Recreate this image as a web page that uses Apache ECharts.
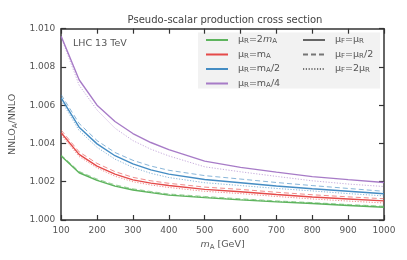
<!DOCTYPE html>
<html>
<head>
<meta charset="utf-8">
<script src="https://cdn.jsdelivr.net/npm/echarts@6/dist/echarts.min.js"></script>
<style>
html,body{margin:0;padding:0;background:#fff;}
#chart{width:407px;height:260px;}
</style>
</head>
<body>
<div id="chart"></div>
<script>
// ---- data ----
const massPoints = [100,150,200,250,300,350,400,500,600,700,800,900,1000];
const xTicks = [100,200,300,400,500,600,700,800,900,1000];
const yTicks = [1.000,1.002,1.004,1.006,1.008,1.010];

const green_fmu  = [1.00334,1.00247,1.00207,1.00177,1.00157,1.00143,1.00130,1.00117,1.00105,1.00095,1.00086,1.00076,1.00067];
const green_fhalf= [1.00340,1.00254,1.00214,1.00184,1.00163,1.00149,1.00136,1.00123,1.00111,1.00100,1.00091,1.00081,1.00072];
const green_f2   = [1.00336,1.00249,1.00209,1.00179,1.00159,1.00145,1.00132,1.00119,1.00107,1.00097,1.00088,1.00078,1.00069];

const red_fmu    = [1.00456,1.00343,1.00282,1.00240,1.00210,1.00193,1.00180,1.00160,1.00148,1.00133,1.00120,1.00110,1.00100];
const red_fhalf  = [1.00470,1.00356,1.00296,1.00253,1.00223,1.00205,1.00192,1.00172,1.00160,1.00145,1.00132,1.00121,1.00111];
const red_f2     = [1.00445,1.00332,1.00272,1.00229,1.00200,1.00183,1.00170,1.00150,1.00138,1.00123,1.00110,1.00099,1.00089];

const blue_fmu   = [1.00638,1.00485,1.00398,1.00336,1.00293,1.00262,1.00240,1.00212,1.00195,1.00178,1.00163,1.00150,1.00137];
const blue_fhalf = [1.00655,1.00505,1.00415,1.00353,1.00312,1.00282,1.00260,1.00232,1.00214,1.00196,1.00180,1.00165,1.00150];
const blue_f2    = [1.00625,1.00468,1.00380,1.00318,1.00275,1.00244,1.00222,1.00195,1.00180,1.00165,1.00152,1.00138,1.00126];

const purple_fmu = [1.00960,1.00733,1.00600,1.00515,1.00452,1.00405,1.00368,1.00308,1.00275,1.00250,1.00227,1.00211,1.00196];
const purple_f2  = [1.00955,1.00705,1.00575,1.00480,1.00415,1.00370,1.00335,1.00278,1.00252,1.00228,1.00205,1.00188,1.00175];

const scaleNames = ['μR=2mA','μR=mA','μR=mA/2','μR=mA/4'];
const styleNames = ['μF=μR','μF=μR/2','μF=2μR'];
const scaleLabels = {
  'μR=2mA':'{g|}{t|μ}{s|R}{t|=2}{i|m}{s|A}',
  'μR=mA':'{g|}{t|μ}{s|R}{t|=m}{s|A}',
  'μR=mA/2':'{g|}{t|μ}{s|R}{t|=m}{s|A}{t|/2}',
  'μR=mA/4':'{g|}{t|μ}{s|R}{t|=m}{s|A}{t|/4}',
  'μF=μR':'{g|}{t|μ}{s|F}{t|=μ}{s|R}',
  'μF=μR/2':'{g|}{t|μ}{s|F}{t|=μ}{s|R}{t|/2}',
  'μF=2μR':'{g|}{t|μ}{s|F}{t|=2μ}{s|R}'
};
const colors = ['#55b055','#e4403f','#3a86c0','#a274c4'];

const groups = [
  [green_fmu, green_fhalf, green_f2],
  [red_fmu, red_fhalf, red_f2],
  [blue_fmu, blue_fhalf, blue_f2],
  [purple_fmu, null, purple_f2]
];

const dashStyles = ['solid',[5,3],[1.2,1.6]];
const series = [];
groups.forEach((g, gi) => {
  g.forEach((arr, si) => {
    if (!arr) return;
    series.push({
      type:'line',
      name: si === 0 ? scaleNames[gi] : scaleNames[gi] + ' ' + styleNames[si],
      data: massPoints.map((m,i)=>[m, arr[i]]),
      symbol:'none',
      smooth:false,
      z: si===0 ? 5 : 3,
      lineStyle:{color:colors[gi], width: si===0 ? 1.4 : 1.0, type: dashStyles[si], opacity: si===0 ? 0.95 : 0.6},
      itemStyle:{color:colors[gi]},
      silent:true
    });
  });
});
styleNames.forEach((n, si) => {
  series.push({
    type:'line', name:n, data:[], symbol:'none',
    lineStyle:{color:'#555', width: si===0 ? 1.4 : 1.0, type: dashStyles[si], opacity: si===0?0.9:0.8},
    itemStyle:{color:'#555'}
  });
});

const rich = {
  g:{width:5},
  t:{fontSize:9.5, color:'#555', fontFamily:'DejaVu Sans'},
  i:{fontSize:9.5, color:'#555', fontFamily:'DejaVu Sans', fontStyle:'italic'},
  s:{fontSize:7, color:'#555', fontFamily:'DejaVu Sans', verticalAlign:'bottom', padding:[4,0,0,0]}
};

const chart = echarts.init(document.getElementById('chart'), null, {renderer:'canvas'});
const axisCommon = {
  axisLine:{show:true, lineStyle:{color:'#333', width:1.5}},
  axisTick:{show:true, inside:true, length:5, lineStyle:{color:'#333', width:1.2}},
  splitLine:{show:false}
};
const legendCommon = {
  orient:'vertical', top:34, itemWidth:22, itemHeight:8, itemGap:2.5, padding:0,
  itemStyle:{color:'transparent', borderWidth:0, opacity:0},
  formatter:n=>scaleLabels[n], textStyle:{rich:rich, lineHeight:10}, selectedMode:false
};
chart.setOption({
  animation:false,
  backgroundColor:'#fff',
  title:{
    text:'Pseudo-scalar production cross section',
    left:220, textAlign:'center', top:10,
    textStyle:{fontSize:10, fontWeight:'normal', color:'#444', fontFamily:'DejaVu Sans'}
  },
  grid:{left:56, right:23, top:28.7, bottom:40, containLabel:false},
  xAxis:[
    Object.assign({type:'value', min:100, max:1000, interval:100, position:'bottom',
      name:'{i|m}{s|A}{t| [GeV]}', nameLocation:'middle', nameGap:18,
      nameTextStyle:{rich:rich},
      axisLabel:{fontSize:9, color:'#555', fontFamily:'DejaVu Sans', margin:6, formatter:v=>String(v)}}, axisCommon),
    Object.assign({type:'value', min:100, max:1000, interval:100, position:'top',
      axisLabel:{show:false}}, axisCommon)
  ],
  yAxis:[
    Object.assign({type:'value', min:1.000, max:1.010, interval:0.002, position:'left',
      name:'{t|NNLO}{s|A}{t|/NNLO}', nameLocation:'middle', nameGap:37, nameRotate:90,
      nameTextStyle:{rich:rich},
      axisLabel:{fontSize:9, color:'#555', fontFamily:'DejaVu Sans', margin:6,
        formatter:v=>v.toFixed(3)}}, axisCommon),
    Object.assign({type:'value', min:1.000, max:1.010, interval:0.002, position:'right',
      axisLabel:{show:false}}, axisCommon)
  ],
  legend:[
    Object.assign({data:scaleNames, left:205}, legendCommon),
    Object.assign({data:styleNames, left:302}, legendCommon)
  ],
  graphic:[
    {type:'rect', shape:{x:198, y:32.5, width:182, height:56}, style:{fill:'#f2f2f2', stroke:null}, z:0, silent:true},
    {type:'text', left:73, top:39, style:{text:'LHC 13 TeV', fontSize:9.5, fill:'#555', fontFamily:'DejaVu Sans'}, z:10}
  ],
  series:series
});
</script>
</body>
</html>
